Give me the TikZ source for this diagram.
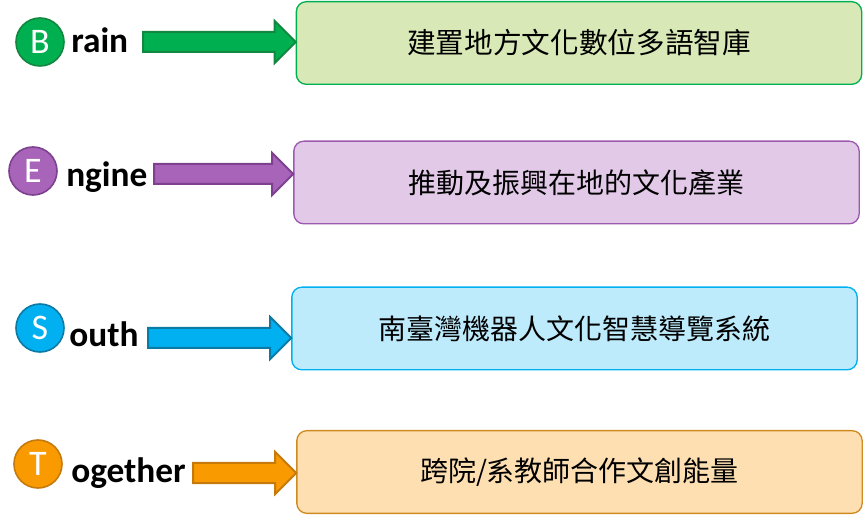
\documentclass[tikz,border=0pt]{standalone}
\usepackage{fontspec}
\setmainfont{Carlito}
\newfontfamily\cjkfont{Noto Sans CJK TC}
\usepackage{tikz}
\usetikzlibrary{calc, positioning}
\definecolor{brainfill}{HTML}{00B050}
\definecolor{braindark}{HTML}{12873F}
\definecolor{brainbox}{HTML}{D8E8B6}
\definecolor{enginefill}{HTML}{A864B8}
\definecolor{enginedark}{HTML}{7D4190}
\definecolor{enginebox}{HTML}{E2C9E8}
\definecolor{enginerule}{HTML}{9B5AAE}
\definecolor{southfill}{HTML}{00B0F0}
\definecolor{southdark}{HTML}{0B7BA6}
\definecolor{southbox}{HTML}{BEEBFC}
\definecolor{togetherfill}{HTML}{F99A00}
\definecolor{togetherdark}{HTML}{C77A0C}
\definecolor{togetherbox}{HTML}{FDDFB1}
\definecolor{togetherrule}{HTML}{D08A22}

\begin{document}
\begin{tikzpicture}[
    x=0.75pt, y=-0.75pt,
    badge/.style={
      circle, line width=1.2pt, inner sep=0pt,
      minimum size=36pt, text=white,
      font=\fontsize{27}{27}\selectfont
    },
    word/.style={
      anchor=base west, inner sep=0pt,
      font=\bfseries\fontsize{26.5}{26.5}\selectfont
    },
    box/.style={
      rectangle, rounded corners=7.5pt, line width=1pt,
      minimum width=424pt, minimum height=62pt,
      font=\cjkfont\fontsize{21}{21}\selectfont
    },
    blockarrow/.style={
      line width=1.5pt, miter limit=4,
      to path={
        -- ($(\tikztostart)+(0,-7.5pt)$)
        -- ($(\tikztotarget)+(-15.75pt,-7.5pt)$)
        -- ($(\tikztotarget)+(-15.75pt,-15.75pt)$)
        -- (\tikztotarget)
        -- ($(\tikztotarget)+(-15.75pt,15.75pt)$)
        -- ($(\tikztotarget)+(-15.75pt,7.5pt)$)
        -- ($(\tikztostart)+(0,7.5pt)$)
        -- cycle}
    }
  ]

    \useasboundingbox (0,0) rectangle (864,516);

    % ── Row 1: Brain ──────────────────────────────────────────────────────
    \node[badge, draw=braindark, fill=brainfill] (c_brain) at (40,42) {B};
    \node[word] (w_brain) at (71,53) {rain};
    \node[box, draw=brainfill, fill=brainbox,
          font=\cjkfont\fontsize{21.5}{21.5}\selectfont]
          (b_brain) at (579,43) {建置地方文化數位多語智庫};
    \coordinate (t_brain) at (143,42);

    % ── Row 2: Engine ─────────────────────────────────────────────────────
    \node[badge, draw=enginedark, fill=enginefill] (c_engine) at (33,171) {E};
    \node[word] (w_engine) at (66,187) {ngine};
    \node[box, draw=enginerule, fill=enginebox]
          (b_engine) at (576.5,182.5) {推動及振興在地的文化產業};
    \coordinate (t_engine) at (154,174);

    % ── Row 3: South ──────────────────────────────────────────────────────
    \node[badge, draw=southdark, fill=southfill] (c_south) at (40,328) {S};
    \node[word] (w_south) at (69,347) {outh};
    \node[box, draw=southfill, fill=southbox]
          (b_south) at (574.5,328.5) {南臺灣機器人文化智慧導覽系統};
    \coordinate (t_south) at (148,338);

    % ── Row 4: Together ───────────────────────────────────────────────────
    \node[badge, draw=togetherdark, fill=togetherfill] (c_together) at (38,464) {T};
    \node[word] (w_together) at (71,482) {ogether};
    \node[box, draw=togetherrule, fill=togetherbox]
          (b_together) at (579.5,472) {跨院/系教師合作文創能量};
    \coordinate (t_together) at (193,473);

    % ── Block arrows: word → box ──────────────────────────────────────────
    \draw[blockarrow, draw=braindark, fill=brainfill]
      (t_brain) to (b_brain.west |- t_brain);
    \draw[blockarrow, draw=enginedark, fill=enginefill]
      (t_engine) to (b_engine.west |- t_engine);
    \draw[blockarrow, draw=southdark, fill=southfill]
      (t_south) to (b_south.west |- t_south);
    \draw[blockarrow, draw=togetherdark, fill=togetherfill]
      (t_together) to (b_together.west |- t_together);

  \end{tikzpicture}
\end{document}
